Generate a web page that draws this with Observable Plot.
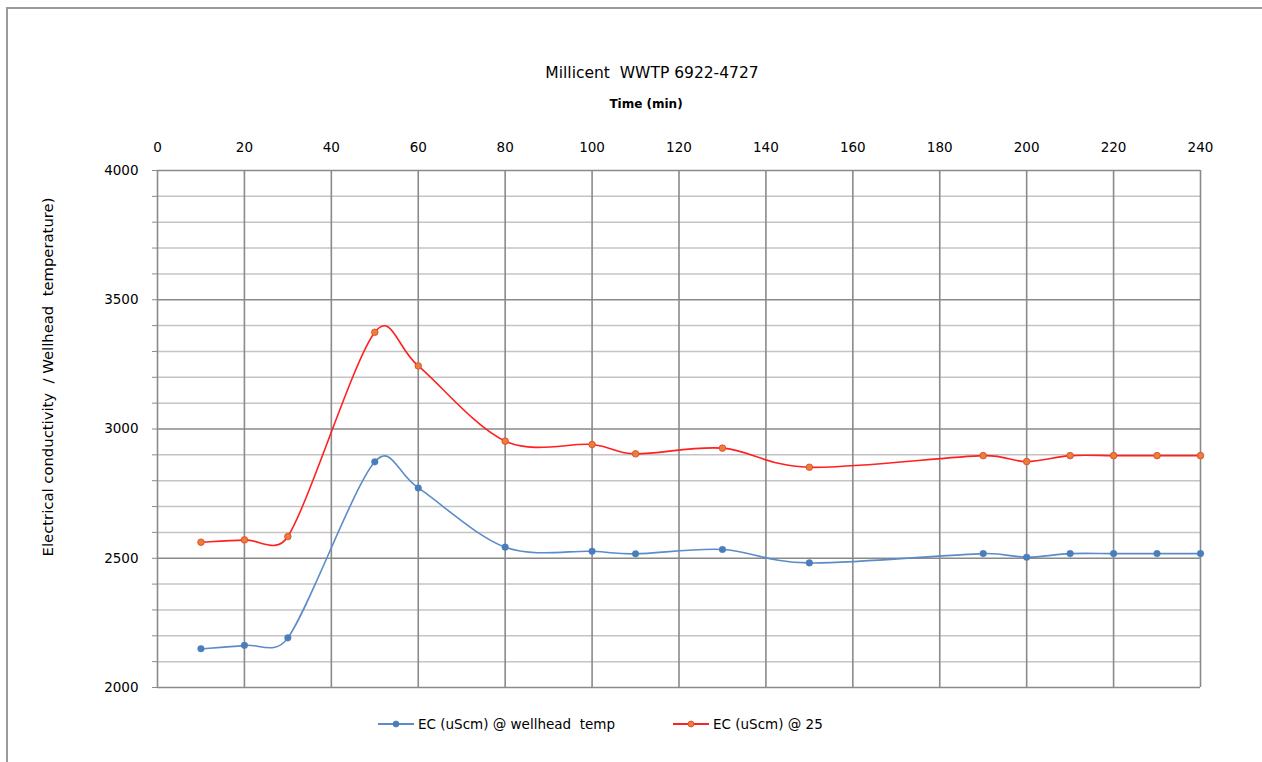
<!DOCTYPE html>
<html>
<head>
<meta charset="utf-8">
<script src="https://cdn.jsdelivr.net/npm/d3@7"></script>
<script src="https://cdn.jsdelivr.net/npm/@observablehq/plot@0.6"></script>
<style>
  html, body { margin: 0; padding: 0; background: #fff; overflow: hidden; }
  body { width: 1262px; height: 762px; position: relative; font-family: "DejaVu Sans", sans-serif; color: #000; }
  #frame { position: absolute; left: 6px; top: 7px; width: 1300px; height: 800px; border-left: 2px solid #9a9a9a; border-top: 2px solid #9a9a9a; }
  #chart { position: absolute; left: 0; top: 0; }
  .t { position: absolute; white-space: pre; transform: translateX(-50%); }
  #title { left: 652px; top: 64px; font-size: 15.5px; }
  #xlabel { left: 646px; top: 97px; font-size: 12px; font-weight: bold; }
  #ylabel { position: absolute; left: 47px; top: 377px; font-size: 14.8px; white-space: pre; transform: translate(-50%, -50%) rotate(-90deg); }
  #legend { position: absolute; left: 378px; top: 716px; font-size: 13.5px; display: flex; white-space: pre; }
  .item { display: flex; align-items: center; }
  .item svg { margin-right: 4px; }
</style>
</head>
<body>
<div id="frame"></div>
<div id="chart"></div>
<div id="title" class="t"></div>
<div id="xlabel" class="t"></div>
<div id="ylabel"></div>
<div id="legend"></div>
<script>
// Sampling times (min) and electrical conductivity readings (uS/cm)
const timeMin = [10, 20, 30, 50, 60, 80, 100, 110, 130, 150, 190, 200, 210, 220, 230, 240];
const ecWellhead = [2150, 2163, 2192, 2873, 2772, 2543, 2527, 2517, 2534, 2482, 2518, 2504, 2518, 2518, 2518, 2518];
const ec25 = [2562, 2571, 2584, 3374, 3244, 2953, 2940, 2904, 2926, 2852, 2897, 2874, 2897, 2897, 2897, 2897];

const seriesNames = ["EC (uScm) @ wellhead  temp", "EC (uScm) @ 25"];
const titleText = "Millicent  WWTP 6922-4727";
const xTitle = "Time (min)";
const yTitle = "Electrical conductivity  / Wellhead  temperature)";
const xTicks = [0, 20, 40, 60, 80, 100, 120, 140, 160, 180, 200, 220, 240];
const yTicks = [2000, 2500, 3000, 3500, 4000];
const yMinor = d3.range(2000, 4001, 100);

const blue = "#5B8BC9", blueDot = "#4A7EBB";
const red = "#FF2020", redDot = "#E8803A", redDotEdge = "#E0402A";

// Smoothed line: cubic Bezier segments with Catmull-Rom tangents (1/6 of the
// neighbour chord), each control arm capped at half the segment's length.
function smoothCurve(context) {
  let pts;
  return {
    areaStart() {}, areaEnd() {},
    lineStart() { pts = []; },
    point(x, y) { pts.push([+x, +y]); },
    lineEnd() {
      const n = pts.length;
      if (!n) return;
      context.moveTo(pts[0][0], pts[0][1]);
      const tan = pts.map((p, i) => {
        const a = pts[Math.max(0, i - 1)], b = pts[Math.min(n - 1, i + 1)];
        return [(b[0] - a[0]) / 6, (b[1] - a[1]) / 6];
      });
      const arm = (t, len) => {
        const m = Math.hypot(t[0], t[1]);
        const s = m > len / 2 ? (len / 2) / m : 1;
        return [t[0] * s, t[1] * s];
      };
      for (let i = 0; i < n - 1; i++) {
        const p = pts[i], q = pts[i + 1];
        const len = Math.hypot(q[0] - p[0], q[1] - p[1]);
        const a = arm(tan[i], len), b = arm(tan[i + 1], len);
        context.bezierCurveTo(p[0] + a[0], p[1] + a[1], q[0] - b[0], q[1] - b[1], q[0], q[1]);
      }
    }
  };
}

const s0 = timeMin.map((t, i) => ({t, v: ecWellhead[i]}));
const s1 = timeMin.map((t, i) => ({t, v: ec25[i]}));

const chart = Plot.plot({
  width: 1262,
  height: 762,
  marginLeft: 157,
  marginRight: 62,
  marginTop: 170,
  marginBottom: 75,
  style: {fontFamily: "DejaVu Sans, sans-serif", fontSize: "13px", background: "transparent", color: "#000"},
  x: {domain: [0, 240]},
  y: {domain: [2000, 4000]},
  marks: [
    Plot.gridY(yMinor.filter(v => v % 500 !== 0), {stroke: "#c4c4c4", strokeOpacity: 1, strokeWidth: 1.5}),
    Plot.gridY(yTicks, {stroke: "#8a8a8a", strokeOpacity: 1, strokeWidth: 1.6}),
    Plot.gridX(xTicks, {stroke: "#8a8a8a", strokeOpacity: 1, strokeWidth: 1.6}),
    Plot.axisY(yMinor, {anchor: "left", tickSize: 5, tickFormat: () => "", stroke: "#8a8a8a", label: null}),
    Plot.axisY(yTicks, {anchor: "left", tickSize: 0, tickPadding: 19, label: null, fontSize: 13.5, tickFormat: d => String(d)}),
    Plot.axisX(xTicks, {anchor: "top", tickSize: 0, tickPadding: 19, label: null, fontSize: 13.5}),
    Plot.line(s0, {x: "t", y: "v", curve: smoothCurve, stroke: blue, strokeWidth: 1.6}),
    Plot.line(s1, {x: "t", y: "v", curve: smoothCurve, stroke: red, strokeWidth: 1.6}),
    Plot.dot(s0, {x: "t", y: "v", r: 3.3, fill: blueDot, stroke: blueDot, strokeWidth: 0.5}),
    Plot.dot(s1, {x: "t", y: "v", r: 3.3, fill: redDot, stroke: redDotEdge, strokeWidth: 0.8})
  ]
});
document.getElementById("chart").appendChild(chart);

document.getElementById("title").textContent = titleText;
document.getElementById("xlabel").textContent = xTitle;
document.getElementById("ylabel").textContent = yTitle;

// Legend: line + marker swatch followed by the series name
const legend = document.getElementById("legend");
[[seriesNames[0], blue, blueDot, blueDot], [seriesNames[1], red, redDot, redDotEdge]].forEach(([name, line, dot, edge], i) => {
  const item = document.createElement("div");
  item.className = "item";
  if (i === 1) item.style.marginLeft = "58px";
  item.innerHTML = `<svg width="36" height="12"><line x1="0" y1="6" x2="36" y2="6" stroke="${line}" stroke-width="2"/><circle cx="18" cy="6" r="3" fill="${dot}" stroke="${edge}" stroke-width="0.8"/></svg><span>${name}</span>`;
  legend.appendChild(item);
});
</script>
</body>
</html>
